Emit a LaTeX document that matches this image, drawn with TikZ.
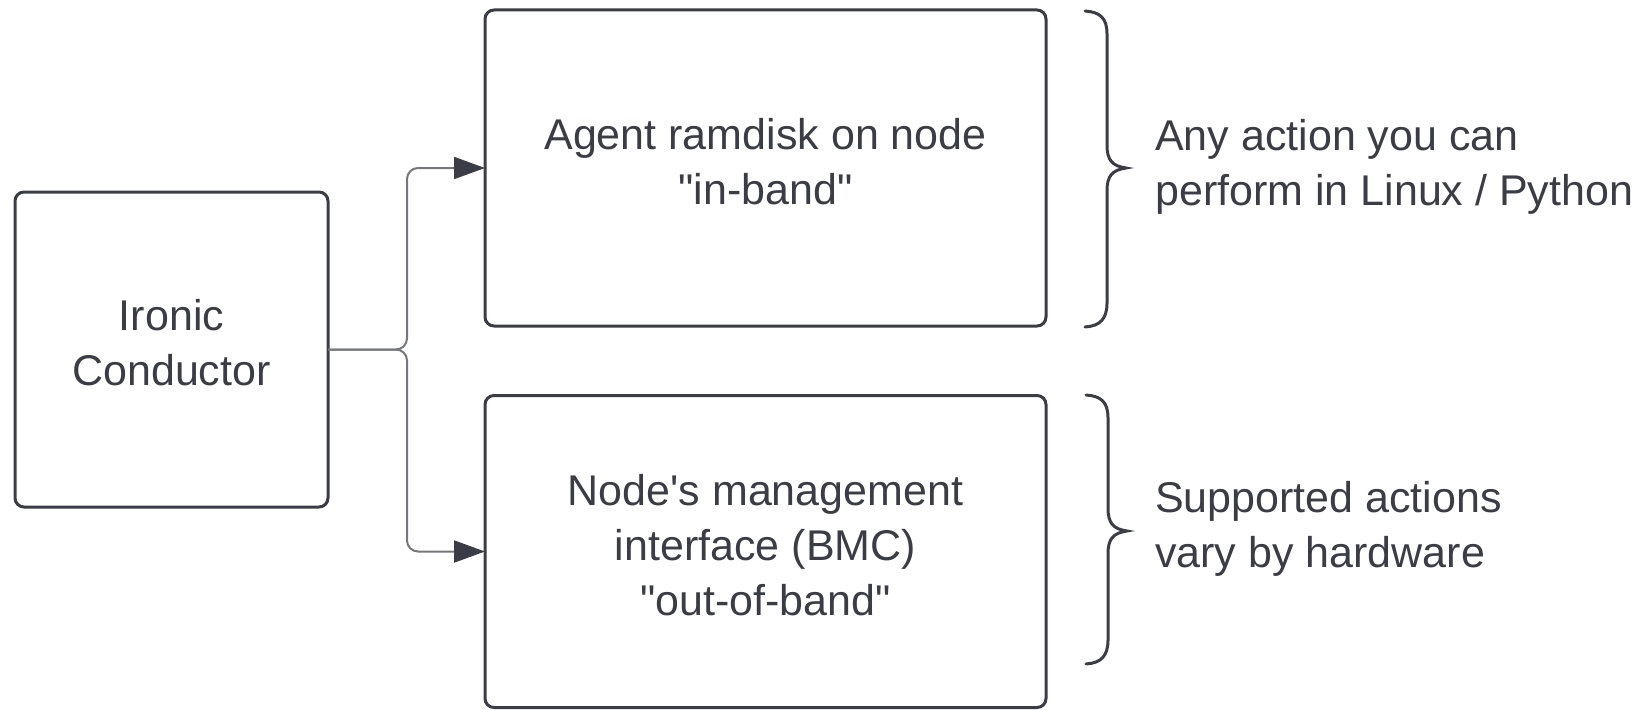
\documentclass[tikz,border=0pt]{standalone}
\usepackage{fontspec}
\setmainfont{Liberation Sans}[Ligatures=TeXOff]
\usetikzlibrary{arrows.meta}
\definecolor{ink}{HTML}{3A3D45}
\definecolor{wire}{HTML}{75777C}
\newcommand{\dq}{\symbol{34}}
\newcommand{\sq}{\symbol{39}}
\tikzset{
  box/.style={draw=ink, line width=3pt, rounded corners=9pt, inner sep=0pt, outer sep=0pt},
  boxtext/.style={align=center, text=ink, inner sep=0pt, font=\fontsize{43}{55}\selectfont},
  side/.style={anchor=west, align=left, text=ink, inner sep=0pt,
    font=\fontsize{43}{55}\selectfont},
  wireline/.style={draw=wire, line width=2pt, rounded corners=11pt,
    -{Triangle[length=31pt,width=22pt,color=ink]}},
  bracepath/.style={draw=ink, line width=3pt, line cap=round}
}
\begin{document}
\begin{tikzpicture}[x=1pt,y=-1pt]
\useasboundingbox (0,0) rectangle (1645,709);
\node[box, minimum width=313pt, minimum height=315pt] (ic) at (171.5,349.5) {};
\node[box, minimum width=561pt, minimum height=316pt] (ib) at (765.5,168) {};
\node[box, minimum width=561pt, minimum height=312pt] (ob) at (765.5,551.5) {};
\node[boxtext] (ict) at ([yshift=7pt]ic.center) {Ironic\\Conductor};
\node[boxtext] (ibt) at ([yshift=6.5pt]ib.center) {Agent ramdisk on node\\\dq in-band\dq};
\node[boxtext] (obt) at ([yshift=6.5pt]ob.center) {Node\sq s management\\interface (BMC)\\\dq out-of-band\dq};
\coordinate (j) at (407,349.5);
\draw[wireline] (ic.east) -- (j) |- (ib.west);
\draw[wireline] (ic.east) -- (j) |- (ob.west);
% braces
\draw[bracepath] (1085,11) .. controls (1100,12) and (1107,18) .. (1107,34)
  -- (1107,145) .. controls (1107,160) and (1112,166) .. (1126,168)
  .. controls (1112,170) and (1107,176) .. (1107,191)
  -- (1107,303) .. controls (1107,319) and (1100,326) .. (1085,327);
\draw[bracepath] (1086,395) .. controls (1101,396) and (1108,402) .. (1108,418)
  -- (1108,508) .. controls (1108,523) and (1113,529) .. (1127,531)
  .. controls (1113,533) and (1108,539) .. (1108,554)
  -- (1108,640) .. controls (1108,656) and (1101,663) .. (1086,664);
\node[side] (t1) at (1155,167) {Any action you can\\perform in Linux / Python};
\node[side] (t2) at (1155,529) {Supported actions\\vary by hardware};
\end{tikzpicture}
\end{document}
